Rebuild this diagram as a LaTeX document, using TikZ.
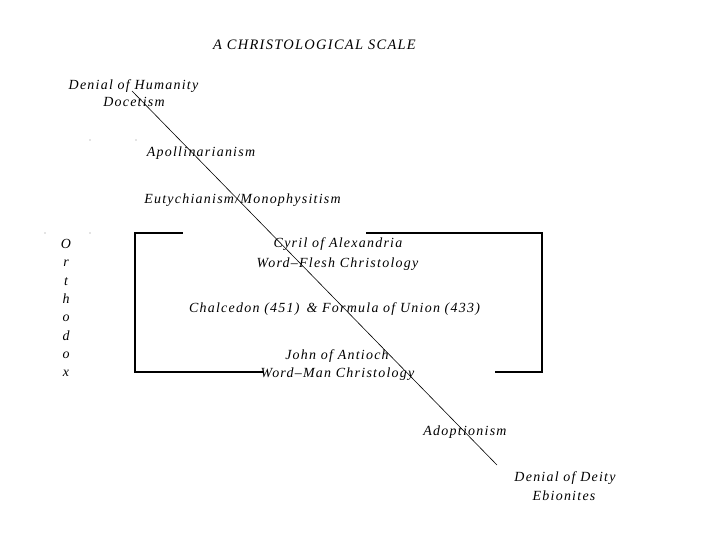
\documentclass[tikz,border=0pt]{standalone}
\usepackage{fontspec}
\setmainfont{Liberation Serif}
\newfontfamily\scalefont[LetterSpace=9]{Liberation Serif}
\tikzset{
    heresy/.style={font=\scalefont\itshape\fontsize{14}{17}\selectfont, align=center, inner sep=0pt},
    bracket/.style={line width=1.6bp, line cap=rect},
    speck/.style={fill=black!45},
}
\begin{document}
\begin{tikzpicture}[x=1bp, y=-1bp]
            \useasboundingbox[fill=white] (0,0) rectangle (720,540);

            % Title
            \node[heresy, font=\scalefont\itshape\fontsize{14.5}{17}\selectfont] (title) at (314.5,45) {A CHRISTOLOGICAL SCALE};

            % Upper end: denial of humanity
            \node[heresy] (humanity) at (133.5,86) {Denial of Humanity};
            \node[heresy] (docetism) at (134,102) {Docetism};
            \node[heresy] (apoll) at (201,153) {Apollinarianism};
            \node[heresy] (eutych) at (242.5,200) {Eutychianism/Monophysitism};

            % Orthodox range
            \node[heresy, font=\scalefont\itshape\fontsize{14}{18.4}\selectfont] (orthodox) at (66,308) {O\\r\\t\\h\\o\\d\\o\\x};
            \node[heresy] (cyril) at (338,244) {Cyril of Alexandria};
            \node[heresy] (wordflesh) at (337.5,264) {Word–Flesh Christology};
            \node[heresy] (chalcedon) at (334.5,309) {Chalcedon (451)\, \& Formula of Union (433)};
            \node[heresy] (john) at (337,356) {John of Antioch};
            \node[heresy] (wordman) at (337.5,374) {Word–Man Christology};

            % Lower end: denial of deity
            \node[heresy] (adopt) at (465,432) {Adoptionism};
            \node[heresy] (deity) at (565,478) {Denial of Deity};
            \node[heresy] (ebionites) at (564,496) {Ebionites};

            % Bracket round the orthodox range
            \draw[bracket] (182,233) -- (135,233) -- (135,372) -- (262,372);
            \draw[bracket] (367,233) -- (542,233) -- (542,372) -- (496,372);

            % The scale itself
            \coordinate (top) at (132,91);
            \coordinate (bottom) at (497,465);
            \draw[line width=0.6bp] (top) -- (bottom);

            % stray specks
            \foreach \p in {(90,140),(136,140),(45,233),(90,233)}
                \fill[speck] \p circle (0.7bp);
        \end{tikzpicture}
\end{document}
